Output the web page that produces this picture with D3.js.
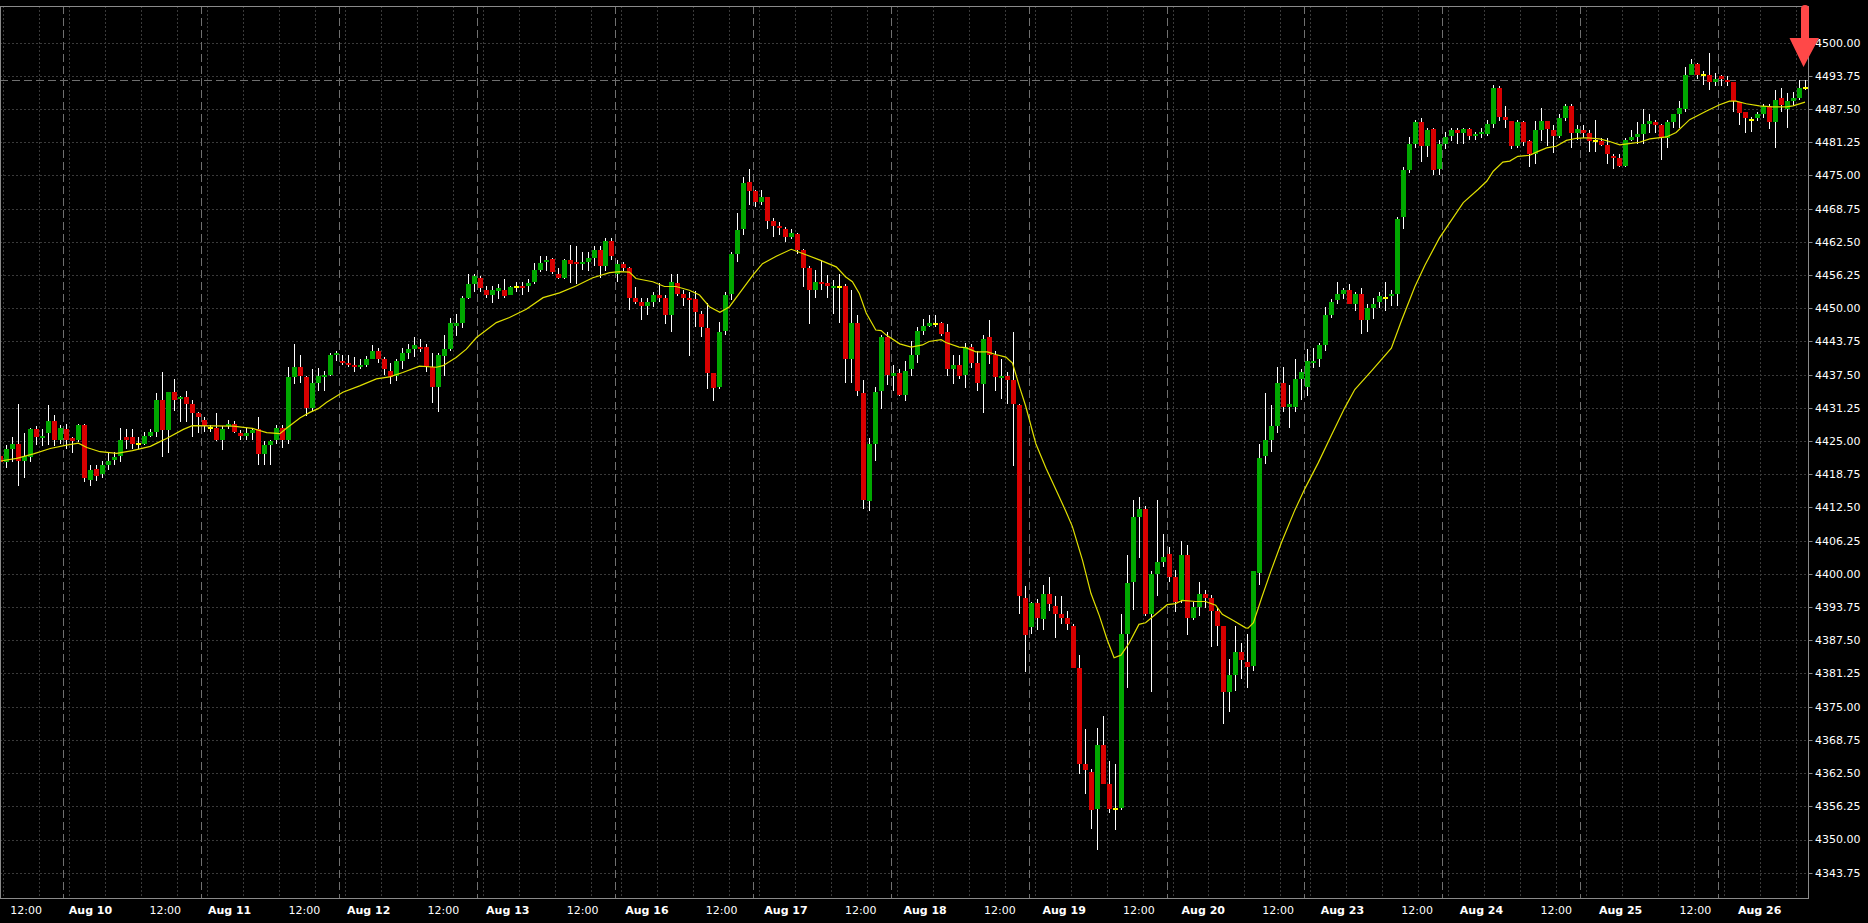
<!DOCTYPE html>
<html><head><meta charset="utf-8">
<script src="https://cdn.jsdelivr.net/npm/d3@7"></script>
<style>html,body{margin:0;padding:0;background:#000;overflow:hidden}</style>
</head><body><svg id="c" width="1868" height="923"></svg>
<script>
// ---------- DATA (hourly bars) ----------
const open = [
4422.25,4421.0,4423.5,4424.5,4421.25,4422.0,4427.25,4425.75,4426.5,4428.75,
4425.25,4427.25,4425.5,4425.25,4428.0,4417.75,4419.75,4418.75,4420.5,4421.5,
4422.25,4425.75,4425.75,4424.5,4424.5,4426.0,4426.75,4432.75,4427.0,4434.25,
4433.0,4433.25,4432.0,4430.25,4429.0,4427.5,4427.5,4425.25,4427.75,4428.25,
4426.5,4426.0,4426.5,4427.25,4422.5,4424.25,4425.25,4427.5,4425.25,4437.0,
4439.0,4437.0,4431.25,4436.0,4437.25,4437.5,4441.25,4440.0,4439.75,4439.25,
4439.0,4439.25,4440.5,4442.0,4440.5,4438.25,4437.25,4440.0,4441.5,4442.25,
4442.75,4442.75,4439.0,4435.25,4441.0,4442.25,4446.75,4447.25,4452.0,4454.5,
4455.75,4453.5,4452.5,4453.25,4453.5,4452.5,4454.0,4454.25,4454.25,4455.0,
4457.25,4458.75,4459.25,4456.5,4455.75,4459.0,4458.75,4458.25,4458.75,4459.5,
4461.0,4458.0,4462.75,4456.5,4458.25,4457.5,4452.0,4451.25,4450.5,4451.25,
4452.5,4452.0,4448.75,4454.75,4452.75,4452.0,4451.75,4449.0,4446.25,4437.75,
4435.25,4445.75,4452.75,4460.25,4465.0,4473.75,4472.0,4470.0,4471.0,4466.5,
4465.5,4465.0,4463.5,4464.0,4461.0,4457.5,4453.5,4455.0,4454.75,4454.0,
4454.0,4454.25,4440.5,4447.25,4434.0,4413.75,4424.5,4434.5,4444.5,4437.25,
4437.75,4433.75,4438.5,4441.25,4445.75,4446.75,4447.0,4447.25,4445.5,4438.5,
4439.25,4437.5,4442.75,4439.75,4435.75,4444.5,4441.25,4437.0,4437.25,4436.5,
4431.75,4395.5,4390.0,4394.5,4391.5,4396.25,4394.0,4392.5,4391.75,4390.25,
4382.25,4364.25,4362.75,4355.75,4367.75,4360.5,4355.75,4356.0,4388.75,4398.5,
4410.75,4412.25,4392.5,4400.0,4402.25,4403.75,4399.5,4395.0,4403.5,4391.75,
4393.75,4396.25,4395.5,4393.0,4390.25,4377.75,4381.0,4385.25,4383.5,4382.75,
4400.25,4422.25,4425.25,4427.75,4436.0,4431.5,4431.5,4436.75,4435.25,4439.75,
4440.5,4443.0,4448.75,4451.5,4452.75,4453.5,4450.75,4452.75,4447.75,4450.0,
4451.25,4452.0,4452.25,4452.75,4467.25,4476.0,4481.0,4485.0,4480.5,4483.75,
4476.25,4481.0,4482.5,4483.5,4483.0,4483.75,4482.5,4482.75,4482.75,4484.75,
4491.5,4486.0,4485.25,4480.5,4485.0,4481.5,4479.0,4483.5,4485.25,4483.5,
4482.5,4485.75,4488.0,4483.0,4483.5,4483.0,4481.5,4481.5,4480.75,4478.75,
4478.25,4476.75,4481.75,4482.25,4482.75,4484.75,4485.0,4484.5,4482.0,4485.0,
4486.5,4487.5,4494.0,4496.0,4494.0,4494.0,4492.5,4493.75,4493.0,4492.5,
4488.75,4487.0,4485.5,4485.75,4486.5,4488.0,4485.0,4489.5,4487.5,4489.0,
4489.5,4491.5];
const high = [
4423.0,4424.25,4425.75,4432.0,4426.5,4427.5,4427.75,4427.25,4431.75,4430.0,
4428.0,4428.25,4425.75,4428.25,4428.25,4420.5,4420.5,4421.25,4423.0,4423.0,
4427.5,4427.25,4427.25,4425.75,4426.75,4427.25,4434.0,4438.0,4434.25,4436.75,
4433.5,4434.5,4432.75,4430.5,4429.5,4428.0,4430.25,4427.75,4429.0,4428.75,
4427.0,4427.5,4427.5,4429.5,4425.0,4425.25,4428.0,4428.0,4439.0,4443.25,
4441.25,4437.25,4438.5,4438.75,4438.25,4441.5,4442.0,4441.25,4441.25,4440.75,
4440.5,4441.0,4443.0,4442.5,4440.75,4439.75,4440.5,4442.5,4443.25,4444.5,
4444.25,4443.25,4441.5,4441.5,4445.0,4448.25,4449.0,4452.25,4456.5,4456.5,
4456.0,4454.25,4454.25,4454.5,4455.5,4454.25,4455.0,4455.0,4455.5,4458.5,
4459.75,4459.75,4459.5,4457.5,4459.25,4462.0,4461.75,4460.5,4460.5,4461.75,
4461.75,4463.25,4463.25,4459.0,4458.75,4457.75,4454.0,4452.0,4452.0,4453.0,
4454.75,4452.5,4456.5,4456.5,4453.5,4453.0,4453.25,4449.5,4451.0,4437.75,
4447.5,4453.0,4460.5,4468.0,4474.75,4476.25,4472.25,4472.25,4471.0,4467.0,
4466.25,4465.25,4465.0,4464.25,4461.25,4458.0,4457.25,4459.0,4456.25,4455.25,
4456.5,4454.5,4453.5,4448.75,4436.5,4425.5,4435.25,4445.0,4445.5,4439.25,
4438.5,4440.0,4443.75,4446.5,4448.0,4448.75,4448.75,4447.5,4447.0,4441.25,
4441.25,4443.5,4443.25,4442.0,4445.0,4447.75,4442.0,4440.5,4438.0,4445.5,
4432.0,4397.75,4394.75,4395.25,4398.0,4399.5,4395.75,4395.75,4393.0,4390.5,
4384.75,4370.75,4363.25,4371.0,4373.25,4364.75,4364.25,4392.5,4403.5,4414.0,
4414.5,4412.75,4400.5,4414.0,4407.5,4405.0,4400.75,4406.25,4405.5,4394.75,
4398.5,4397.0,4396.0,4393.5,4390.25,4384.0,4390.25,4387.0,4388.75,4400.5,
4424.5,4434.0,4431.75,4439.0,4439.0,4435.5,4440.5,4438.5,4442.25,4442.5,
4443.5,4450.25,4451.75,4455.0,4453.75,4454.5,4453.0,4453.75,4450.75,4452.0,
4453.0,4455.0,4453.5,4467.25,4476.5,4482.25,4485.5,4485.75,4484.0,4484.0,
4481.75,4483.25,4484.0,4484.0,4484.0,4484.0,4483.25,4484.0,4485.5,4492.0,
4491.75,4488.0,4485.25,4485.5,4485.25,4481.75,4485.25,4487.75,4485.25,4484.5,
4486.5,4488.5,4488.5,4484.5,4484.5,4483.5,4485.5,4482.0,4482.0,4479.0,
4479.0,4482.0,4483.5,4485.0,4487.5,4486.5,4485.5,4484.75,4485.5,4486.5,
4489.0,4495.5,4497.0,4496.25,4494.75,4498.0,4494.25,4494.0,4493.75,4492.5,
4488.75,4487.0,4486.0,4487.0,4488.5,4488.5,4491.0,4491.5,4490.5,4490.75,
4493.0,4493.0];
const low = [
4420.0,4420.0,4421.0,4416.5,4418.0,4421.0,4424.25,4424.0,4424.25,4424.0,
4424.5,4423.5,4422.75,4424.75,4417.25,4416.5,4417.5,4418.0,4419.5,4420.5,
4421.0,4423.5,4423.5,4423.5,4424.25,4425.75,4425.75,4422.0,4422.75,4430.75,
4428.5,4428.5,4425.75,4426.5,4426.75,4426.75,4425.0,4423.25,4427.25,4426.5,
4425.25,4425.25,4425.25,4420.5,4420.5,4420.5,4424.5,4423.75,4424.5,4435.75,
4436.0,4429.75,4430.75,4434.5,4434.5,4437.25,4440.0,4439.25,4439.0,4438.0,
4438.5,4439.0,4440.5,4439.75,4437.5,4435.75,4436.25,4438.5,4440.5,4440.75,
4441.75,4438.0,4432.25,4430.5,4437.25,4442.0,4444.75,4446.25,4451.75,4453.0,
4453.0,4452.0,4451.0,4451.75,4452.0,4452.5,4453.0,4452.5,4453.0,4454.5,
4456.75,4457.0,4456.5,4455.5,4455.5,4454.75,4454.5,4457.25,4457.0,4458.0,
4455.75,4457.0,4459.0,4455.0,4457.0,4449.75,4450.75,4447.75,4448.75,4450.25,
4451.25,4447.0,4445.5,4452.25,4450.5,4441.0,4446.5,4444.5,4434.75,4432.5,
4434.75,4445.0,4451.5,4458.75,4463.75,4469.5,4469.0,4469.5,4465.0,4463.5,
4463.75,4462.5,4463.0,4460.25,4454.0,4447.0,4452.0,4453.5,4452.0,4449.0,
4447.25,4436.0,4436.0,4433.5,4412.25,4411.75,4421.25,4431.0,4435.5,4434.5,
4433.5,4432.5,4437.25,4439.75,4445.0,4446.5,4446.5,4444.75,4437.25,4435.75,
4436.75,4435.0,4438.75,4434.5,4430.25,4439.5,4434.5,4433.0,4432.0,4420.25,
4392.5,4381.5,4388.75,4389.5,4389.5,4393.0,4388.0,4390.5,4389.5,4382.25,
4362.25,4358.5,4352.0,4348.0,4360.5,4355.0,4351.75,4355.5,4378.5,4393.25,
4403.0,4392.0,4377.75,4395.75,4401.25,4398.5,4392.75,4394.5,4388.5,4391.25,
4392.0,4393.5,4386.25,4386.5,4371.75,4374.0,4378.0,4380.25,4378.5,4381.75,
4398.0,4420.75,4423.0,4426.5,4430.5,4427.5,4430.5,4432.75,4433.5,4438.75,
4439.0,4442.0,4448.25,4450.75,4451.75,4450.75,4449.5,4445.25,4445.5,4448.0,
4450.0,4449.5,4450.5,4450.5,4465.0,4475.5,4480.25,4477.5,4478.5,4475.0,
4475.0,4480.0,4481.5,4481.0,4481.0,4481.75,4481.75,4482.0,4482.5,4484.0,
4485.25,4484.0,4480.0,4480.25,4480.5,4476.5,4477.25,4481.5,4480.5,4479.25,
4482.0,4485.25,4480.25,4481.75,4482.0,4479.5,4479.5,4480.5,4477.25,4476.25,
4476.5,4476.5,4481.5,4481.0,4481.0,4483.0,4483.0,4478.0,4480.25,4484.0,
4484.0,4487.0,4494.0,4493.25,4492.0,4491.0,4491.75,4491.75,4491.75,4487.0,
4484.5,4483.0,4483.25,4485.25,4485.75,4483.75,4480.25,4487.0,4484.0,4488.0,
4489.25,4491.0];
const close = [
4421.0,4423.5,4424.5,4421.25,4422.25,4427.25,4425.75,4426.0,4428.75,4425.25,
4427.5,4425.25,4425.0,4428.0,4418.0,4419.5,4418.5,4420.5,4421.25,4422.0,
4425.25,4425.25,4424.5,4424.5,4426.0,4426.75,4432.75,4427.0,4434.25,4432.75,
4433.25,4432.0,4430.25,4429.5,4427.75,4427.5,4425.25,4427.25,4428.25,4426.75,
4426.0,4426.5,4427.0,4422.5,4424.25,4425.0,4427.5,4425.25,4437.0,4439.0,
4437.25,4431.25,4436.0,4437.25,4437.5,4441.25,4441.5,4439.75,4439.25,4439.0,
4439.25,4440.5,4442.0,4440.5,4438.5,4437.0,4440.0,4441.5,4442.25,4443.0,
4442.5,4439.0,4435.25,4441.25,4442.25,4447.25,4447.25,4452.0,4454.5,4456.0,
4453.75,4452.5,4453.5,4453.75,4452.25,4454.0,4454.0,4453.75,4454.75,4457.25,
4458.5,4459.0,4456.75,4455.75,4459.0,4458.25,4458.25,4458.75,4459.5,4461.0,
4458.0,4462.75,4459.75,4458.25,4457.5,4452.0,4451.25,4450.5,4451.25,4452.5,
4452.0,4448.75,4455.0,4452.75,4452.0,4451.75,4449.25,4446.5,4437.75,4435.0,
4445.5,4452.5,4460.25,4464.75,4473.5,4472.0,4470.0,4471.0,4466.5,4465.5,
4465.25,4463.5,4464.25,4461.0,4457.5,4453.5,4455.0,4454.5,4454.25,4454.25,
4454.0,4440.5,4447.25,4434.5,4414.0,4424.5,4434.25,4444.5,4437.5,4437.75,
4433.75,4438.25,4441.25,4445.75,4446.75,4447.25,4447.0,4445.25,4438.5,4439.25,
4437.25,4442.75,4439.75,4436.0,4444.25,4441.25,4437.0,4437.25,4436.5,4432.0,
4395.75,4388.5,4394.5,4391.75,4396.25,4394.25,4392.5,4391.75,4390.5,4382.25,
4364.25,4363.0,4355.5,4367.75,4360.5,4355.75,4355.75,4388.75,4398.25,4410.75,
4412.25,4392.5,4400.0,4402.25,4403.25,4399.5,4394.75,4403.5,4391.75,4393.75,
4396.25,4395.5,4393.0,4390.25,4377.75,4381.0,4385.25,4383.75,4382.5,4400.5,
4421.75,4425.25,4427.75,4436.0,4431.5,4432.0,4436.75,4438.0,4440.0,4440.0,
4443.0,4448.75,4451.25,4452.75,4453.5,4450.75,4452.75,4447.75,4450.0,4450.75,
4452.25,4452.0,4452.75,4466.75,4476.0,4481.0,4485.0,4480.5,4483.5,4476.0,
4481.0,4482.25,4483.5,4483.0,4483.75,4482.5,4482.75,4483.25,4484.75,4491.5,
4486.0,4485.5,4480.5,4485.0,4481.25,4479.0,4483.5,4485.25,4483.75,4482.5,
4485.75,4488.0,4483.0,4483.75,4483.0,4481.5,4481.5,4480.75,4479.0,4478.25,
4476.75,4481.75,4482.25,4482.75,4484.75,4485.25,4484.5,4482.0,4485.0,4486.5,
4487.75,4494.0,4496.0,4494.0,4494.0,4492.5,4493.25,4493.25,4492.5,4489.0,
4486.75,4485.75,4485.5,4486.5,4488.0,4485.0,4489.25,4488.25,4489.0,4489.5,
4491.5,4491.5];

// moving-average line, read at bar positions
const maIndex = [0,2.7,5.5,8.3,11,13,14.4,16.6,19.4,22,25,26.6,27.7,30.5,32,38.8,42,44.4,46.6,47.7,
50,51.6,53,54.4,57.1,59.9,62.7,64.9,67.1,69.9,72.7,73.8,76,77.7,79.4,82.7,84.9,87.7,90.5,93.25,
96,98.8,101.6,103.25,104.9,106,108.8,110.75,112.7,114.9,116.6,118.25,120,121.6,123.25,125.5,127.1,129.4,131.9,133.8,
136.6,139.4,141,142.1,143.25,144.4,146,146.9,147.7,150,151.9,153.8,154.9,156.9,157.7,159.9,161,162.7,164.6,166,
167.7,168.8,169.9,171,172.7,174.4,176,177.7,178.8,180.5,181.9,183.3,184.6,185.75,186.9,188.25,189.9,191,192.7,194.6,
196,197.1,199.4,201,202.7,203.8,205.5,207.7,208.1,209,210.4,212,213.7,215.9,217.6,219.8,222,224.25,225.9,228.7,
232,233.7,235.9,237.6,240,244,246.5,247.9,249,250.6,251.75,253.1,255.1,256.2,257.9,259.5,261.2,262.9,264.5,266.75,
268.4,270.1,272.25,273.4,275.1,277.9,279.5,281.75,284.5,286.75,288.4,289.5,291.2,293.4,295.6,297.9,299,301];
const maValue = [4421.25,4421.75,4422.6,4423.6,4424.25,4424.6,4423.8,4423.0,4422.7,4423.2,4424.0,4424.9,4425.5,4427.2,4427.9,4427.8,4427.4,4426.6,4426.4,4427.4,
4429.4,4430.4,4431.1,4432.3,4434.2,4435.4,4436.7,4437.1,4437.9,4439.1,4438.9,4439.2,4440.75,4442.3,4444.5,4447.3,4448.25,4449.8,4452.0,4452.9,
4454.2,4455.75,4456.7,4456.9,4456.8,4455.6,4455.0,4454.1,4454.1,4453.4,4452.5,4450.3,4449.25,4450.3,4452.8,4456.25,4458.4,4459.8,4461.1,4460.3,
4459.1,4457.8,4455.9,4455.0,4452.8,4449.1,4445.9,4445.8,4445.0,4443.3,4442.7,4443.1,4443.75,4444.1,4443.55,4442.7,4442.6,4441.8,4441.8,4441.3,
4440.8,4439.7,4435.5,4431.6,4424.5,4419.9,4416.0,4411.8,4408.9,4402.5,4396.3,4392.1,4387.6,4384.2,4384.7,4386.95,4390.5,4390.8,4392.4,4394.2,
4394.4,4395.0,4394.8,4394.8,4394.1,4392.4,4391.3,4389.85,4389.8,4390.8,4395.6,4400.8,4406.0,4412.0,4416.1,4420.9,4426.1,4431.3,4434.7,4438.2,
4442.5,4447.7,4454.0,4458.1,4463.2,4469.9,4472.4,4473.9,4475.8,4477.5,4477.7,4478.6,4478.8,4479.4,4480.2,4480.5,4481.6,4482.0,4482.1,4481.9,
4481.4,4480.75,4481.1,4481.25,4481.9,4482.25,4483.1,4485.5,4487.1,4488.3,4489.0,4489.0,4488.5,4488.1,4487.9,4487.9,4488.1,4488.8];

const priceTicks = [4343.75,4350.00,4356.25,4362.50,4368.75,4375.00,4381.25,4387.50,4393.75,4400.00,
4406.25,4412.50,4418.75,4425.00,4431.25,4437.50,4443.75,4450.00,4456.25,4462.50,4468.75,4475.00,
4481.25,4487.50,4493.75,4500.00];
const dayLabels = ["Aug 10","Aug 11","Aug 12","Aug 13","Aug 16","Aug 17","Aug 18","Aug 19","Aug 20","Aug 23","Aug 24","Aug 25","Aug 26"];
const hourLabel = "12:00";
const priceLine = 4493.0;
const sessionStart = 11;   // first bar of the Aug 10 session
const sessionLength = 23;  // hourly bars per session
const gridOffsets = [1, 7, 13, 19]; // 00:00, 06:00, 12:00, 18:00 within a session

// ---------- LAYOUT ----------
const W = 1868, H = 923;
const P = {left: 0, right: 1808, top: 6, bottom: 898};
const svg = d3.select("#c");
svg.append("rect").attr("width", W).attr("height", H).attr("fill", "#000");

const n = open.length;
const x = d3.scaleLinear().domain([0, n - 1]).range([0.5, 1805.0]);
const y = d3.scaleLinear().domain([4338.8, 4506.9]).range([899, 6]);
const half = (x(1) - x(0)) / 2;
const crisp = v => Math.round(v) + 0.5;

const grid = svg.append("g");
grid.selectAll("line.h").data(priceTicks).join("line")
  .attr("x1", P.left).attr("x2", P.right)
  .attr("y1", d => crisp(y(d))).attr("y2", d => crisp(y(d)))
  .attr("stroke", "#3a3a3a").attr("stroke-dasharray", "2,2");

const idx = d3.range(n);
const offs = i => ((i - sessionStart) % sessionLength + sessionLength) % sessionLength;
grid.selectAll("line.v").data(idx.filter(i => gridOffsets.includes(offs(i)))).join("line")
  .attr("x1", i => crisp(x(i) - half)).attr("x2", i => crisp(x(i) - half))
  .attr("y1", P.top).attr("y2", P.bottom)
  .attr("stroke", "#3a3a3a").attr("stroke-dasharray", "2,2");
grid.selectAll("line.s").data(idx.filter(i => offs(i) === 0)).join("line")
  .attr("x1", i => crisp(x(i) - half)).attr("x2", i => crisp(x(i) - half))
  .attr("y1", P.top).attr("y2", P.bottom)
  .attr("stroke", "#707070").attr("stroke-dasharray", "8,4");

svg.append("line").attr("x1", P.left).attr("x2", P.right)
  .attr("y1", crisp(y(priceLine))).attr("y2", crisp(y(priceLine)))
  .attr("stroke", "#707070").attr("stroke-dasharray", "8,4");

const c = svg.append("g").attr("shape-rendering", "crispEdges");
const bx = i => Math.round(x(i) - 2.5);
c.selectAll("rect.w").data(idx).join("rect")
  .attr("x", i => bx(i) + 2).attr("width", 1)
  .attr("y", i => Math.round(y(high[i])))
  .attr("height", i => Math.max(1, Math.round(y(low[i])) - Math.round(y(high[i]))))
  .attr("fill", "#ffffff");
c.selectAll("rect.b").data(idx).join("rect")
  .attr("x", i => bx(i)).attr("width", 5)
  .attr("y", i => open[i] === close[i] ? Math.round(y(open[i])) - 1 : Math.round(y(Math.max(open[i], close[i]))))
  .attr("height", i => open[i] === close[i] ? 2 :
        Math.max(2, Math.round(y(Math.min(open[i], close[i]))) - Math.round(y(Math.max(open[i], close[i])))))
  .attr("fill", i => open[i] === close[i] ? "#ffff00" : (close[i] > open[i] ? "#00a800" : "#d80000"));

const maPts = maIndex.map((k, j) => [k, maValue[j]]);
svg.append("path").datum(maPts)
  .attr("d", d3.line().x(d => x(d[0])).y(d => y(d[1])))
  .attr("fill", "none").attr("stroke", "#e0e000").attr("stroke-width", 1.2);

svg.append("rect").attr("x", 0.5).attr("y", P.top + 0.5)
  .attr("width", P.right).attr("height", P.bottom - P.top)
  .attr("fill", "none").attr("stroke", "#8a8a8a");

const ya = svg.append("g");
ya.selectAll("line").data(priceTicks).join("line")
  .attr("x1", P.right + 0.5).attr("x2", P.right + 4.5)
  .attr("y1", d => crisp(y(d))).attr("y2", d => crisp(y(d)))
  .attr("stroke", "#8a8a8a");
ya.selectAll("text").data(priceTicks).join("text")
  .attr("x", 1815).attr("y", d => y(d)).attr("dy", "0.36em")
  .attr("fill", "#ffffff").style("font", "11px 'DejaVu Sans', sans-serif")
  .text(d3.format(".2f"));

const labelX = d3.scaleLinear().domain([0, dayLabels.length - 1]).range([90.5, 1759.7]);
const xa = svg.append("g").style("font-family", "'DejaVu Sans', sans-serif").style("font-size", "11px");
xa.selectAll("text.d").data(dayLabels).join("text")
  .attr("x", (d, j) => labelX(j)).attr("y", 914).attr("text-anchor", "middle")
  .attr("fill", "#ffffff").attr("font-weight", "bold").text(d => d);
xa.selectAll("text.h").data(dayLabels).join("text")
  .attr("x", (d, j) => labelX(j - 0.4625)).attr("y", 914).attr("text-anchor", "middle")
  .attr("fill", "#ffffff").text(hourLabel);

const ax = x(n - 1);
svg.append("path")
  .attr("d", `M${ax-4},38 L${ax-4},9 Q${ax-4},5 ${ax},5 Q${ax+4},5 ${ax+4},9 L${ax+4},38 L${ax+14},38 L${ax-1.5},67 L${ax-15.5},38 Z`)
  .attr("fill", "#ff4848");
</script>
</body></html>
